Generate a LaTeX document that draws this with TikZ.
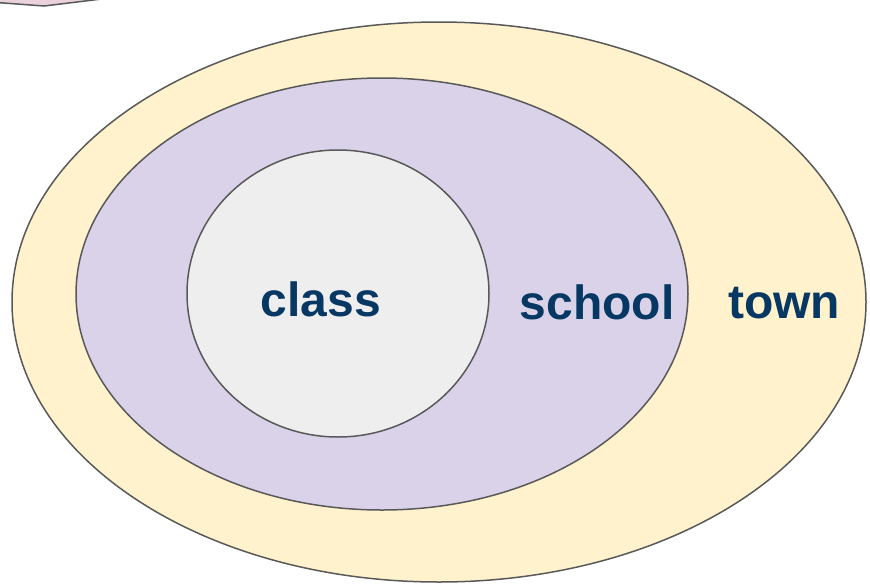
\documentclass[tikz,border=0pt]{standalone}
\usepackage{fontspec}
\setmainfont{Liberation Sans}
\definecolor{townfill}{HTML}{FFF2CC}
\definecolor{schoolfill}{HTML}{D9D2E9}
\definecolor{classfill}{HTML}{EEEEEE}
\definecolor{edge}{HTML}{595959}
\definecolor{labelblue}{HTML}{073763}
\definecolor{pinkfill}{HTML}{EAD1DC}
\tikzset{
  region/.style={draw=edge, line width=1.5pt},
  lbl/.style={text=labelblue, font=\fontsize{48}{48}\selectfont\bfseries, anchor=base, inner sep=0pt},
}
\begin{document}
\begin{tikzpicture}[x=1pt,y=-1pt]
\useasboundingbox (0,0) rectangle (870,584);
\clip (0,0) rectangle (870,584);
\fill[white] (0,0) rectangle (870,584);
\draw[region, fill=pinkfill] (-10,2) -- (44,6) -- (118,-3) -- (118,-20) -- (-10,-20) -- cycle;
\draw[region, fill=townfill] (439,302) ellipse [x radius=427, y radius=280];
\draw[region, fill=schoolfill] (382,294) ellipse [x radius=306, y radius=216];
\draw[region, fill=classfill] (338,293.5) ellipse [x radius=151, y radius=143.5];
\node[lbl] (class) at (321,316) {class};
\node[lbl] (school) at (597,319) {school};
\node[lbl] (town) at (784,318) {town};
\end{tikzpicture}
\end{document}
